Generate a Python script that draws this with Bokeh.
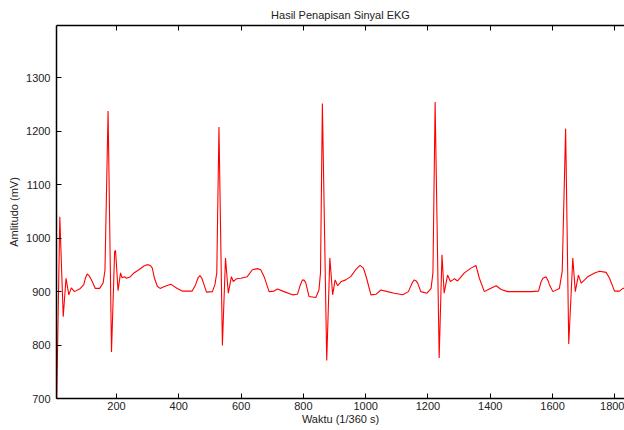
from bokeh.plotting import figure
from bokeh.models import LinearAxis, FixedTicker, Range1d, Title
from bokeh.embed import file_html
from bokeh.resources import INLINE

# ECG samples (time in 1/360 s, amplitude in mV)
time = [7, 18, 29, 38, 47, 55, 65, 84, 95, 100, 106, 112, 122, 132, 146, 157, 163, 173, 184, 194, 197,
        205, 213, 218, 226, 232, 245, 256, 272, 288, 296, 304, 310, 315, 322, 331, 340, 352, 374, 395,
        411, 443, 454, 462, 468, 474, 481, 489, 508, 516, 522, 529, 540, 550, 559, 569, 575, 585, 599,
        620, 636, 652, 663, 674, 690, 706, 717, 738, 765, 781, 790, 797, 803, 808, 818, 840, 850, 855,
        861, 875, 885, 894, 902, 910, 922, 936, 952, 968, 982, 993, 1003, 1017, 1033, 1049,
        1070, 1092, 1119, 1137, 1150, 1156, 1162, 1167, 1177, 1197, 1210, 1216, 1223, 1236, 1245, 1252,
        1263, 1272, 1280, 1285, 1295, 1317, 1338, 1354, 1365, 1381, 1397, 1419, 1435, 1456,
        1499, 1531, 1555, 1563, 1569, 1579, 1586, 1590, 1601, 1622, 1631, 1642, 1652, 1665, 1673, 1683,
        1692, 1703, 1713, 1735, 1751, 1772, 1783, 1799, 1815, 1826, 1833]
amplitude = [660, 1040, 853, 925, 894, 907, 900, 906, 913, 925, 933, 930, 919, 906, 906, 916, 940, 1238, 787, 975, 977,
             902, 935, 926, 928, 925, 928, 935, 941, 948, 950, 950, 948, 944, 925, 910, 906, 909, 914, 906,
             901, 901, 913, 926, 930, 925, 913, 899, 900, 913, 935, 1208, 799, 963, 897, 928, 919, 924, 925,
             928, 941, 943, 941, 928, 900, 901, 905, 900, 894, 895, 912, 922, 921, 916, 891, 889, 903, 935,
             1252, 771, 963, 894, 922, 911, 919, 922, 928, 941, 949, 944, 925, 894, 895, 903,
             900, 897, 894, 900, 917, 922, 920, 916, 900, 897, 906, 935, 1255, 776, 969, 897,
             931, 919, 922, 924, 920, 935, 944, 949, 925, 900, 905, 911, 904, 900,
             900, 900, 901, 918, 925, 928, 920, 913, 900, 906, 938, 1205, 802, 963, 900, 931,
             916, 922, 928, 935, 938, 936, 925, 901, 901, 906, 907]

x_ticks = [200, 400, 600, 800, 1000, 1200, 1400, 1600, 1800]
y_ticks = [700, 800, 900, 1000, 1100, 1200, 1300]

FONT = "Liberation Sans"
TXT = "#222222"

p = figure(width=624, height=430, output_backend="svg", toolbar_location=None,
           x_range=Range1d(7.4, 1831), y_range=Range1d(700, 1398),
           x_axis_location="below", y_axis_location="left",
           min_border_left=56, min_border_right=0, min_border_top=25, min_border_bottom=32)
p.title = Title(text="Hasil Penapisan Sinyal EKG", align="center", text_font=FONT,
                text_font_size="11px", text_font_style="normal", text_color=TXT, standoff=10)
p.outline_line_color = None
p.grid.visible = False
p.background_fill_color = "white"
p.border_fill_color = "white"

p.line(time, amplitude, line_color="red", line_width=1.1)

for ax in (p.xaxis[0], p.yaxis[0]):
    ax.major_tick_in = 5
    ax.major_tick_out = 0
    ax.minor_tick_in = 0
    ax.minor_tick_out = 0
    ax.axis_line_color = "black"
    ax.axis_line_width = 1.5
    ax.major_tick_line_color = "black"
    ax.major_label_text_font = FONT
    ax.major_label_text_font_size = "11px"
    ax.major_label_text_color = TXT
    ax.axis_label_text_font = FONT
    ax.axis_label_text_font_size = "11px"
    ax.axis_label_text_font_style = "normal"
    ax.axis_label_text_color = TXT

p.xaxis[0].ticker = FixedTicker(ticks=x_ticks)
p.yaxis[0].ticker = FixedTicker(ticks=y_ticks)
p.xaxis[0].axis_label = "Waktu (1/360 s)"
p.yaxis[0].axis_label = "Amlitudo (mV)"
p.xaxis[0].major_label_standoff = 3
p.xaxis[0].axis_label_standoff = 0
p.yaxis[0].major_label_standoff = 6
p.yaxis[0].axis_label_standoff = 3

top = LinearAxis(ticker=FixedTicker(ticks=x_ticks), major_tick_in=5, major_tick_out=0,
                 minor_tick_in=0, minor_tick_out=0, axis_line_color="black", axis_line_width=1.5,
                 major_label_overrides={t: "" for t in x_ticks},
                 major_label_text_font_size="1px", major_label_standoff=0)
p.add_layout(top, "above")

open("out.html", "w").write(file_html(p, INLINE))
